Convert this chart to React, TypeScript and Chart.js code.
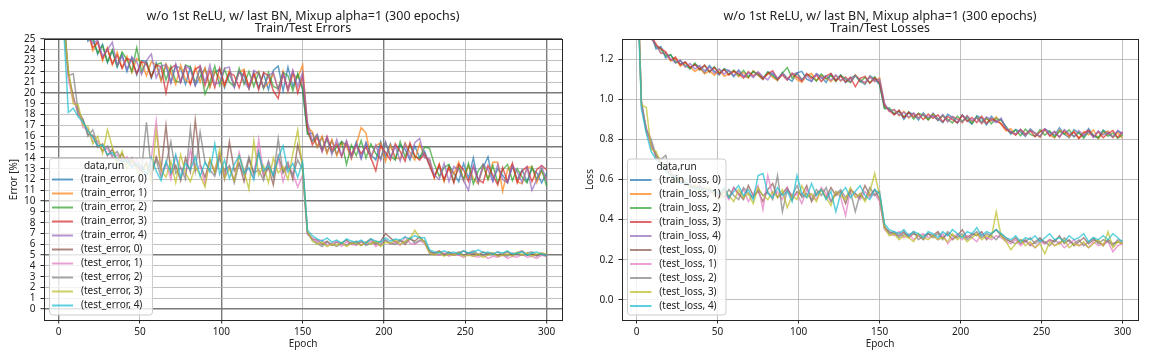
import React, { useEffect, useRef } from "react";
import { Chart, registerables } from "chart.js";
Chart.register(...registerables);

// ---------- categories / ticks ----------
const EPOCHS: number[] = Array.from({ length: 101 }, (_, i) => i * 3);
const X_TICKS = [0, 50, 100, 150, 200, 250, 300];
const X_MAJOR = [0, 100, 200, 300];
const ERR_TICKS = [0, 1, 2, 3, 4, 5, 6, 7, 8, 9, 10, 11, 12, 13, 14, 15, 16, 17, 18, 19, 20, 21, 22, 23, 24, 25];
const ERR_MAJOR = [0, 5, 10, 15, 20, 25];
const LOSS_TICKS = [0, 0.2, 0.4, 0.6, 0.8, 1.0, 1.2];

const ERR_LABELS = ["(train_error, 0)", "(train_error, 1)", "(train_error, 2)", "(train_error, 3)", "(train_error, 4)", "(test_error, 0)", "(test_error, 1)", "(test_error, 2)", "(test_error, 3)", "(test_error, 4)"];
const LOSS_LABELS = ["(train_loss, 0)", "(train_loss, 1)", "(train_loss, 2)", "(train_loss, 3)", "(train_loss, 4)", "(test_loss, 0)", "(test_loss, 1)", "(test_loss, 2)", "(test_loss, 3)", "(test_loss, 4)"];

// ---------- series (one value every 3 epochs, 0..300) ----------
const TRAIN_ERR_0 = [
  44.5, 36.2, 31.8, 29.3, 27.1, 26.6, 24.8, 25.3, 23.6, 24.5, 22.8, 23.9, 22.4, 23.6, 22.0, 23.3, 21.7, 23.0, 22.9, 21.4, 22.8,
  21.2, 22.6, 21.0, 22.5, 22.3, 20.8, 22.4, 20.7, 21.5, 22.3, 20.6, 21.9, 22.2, 20.5, 21.8, 20.6, 22.0, 21.6, 20.4, 21.9,
  20.5, 21.8, 20.3, 22.1, 22.5, 20.2, 22.4, 20.6, 21.7, 20.3,
  16.2, 16.3, 15.0, 15.9, 14.5, 15.6, 14.3, 15.5, 15.2, 14.1,
  15.5, 14.0, 15.4, 14.3, 13.8, 15.5, 14.1, 15.3, 13.9, 15.2, 14.8, 13.8, 15.1, 14.0, 14.6,
  13.4, 12.3, 13.2, 11.9, 13.3, 12.6, 11.8, 13.5, 12.1, 14.0, 11.8, 13.1, 14.1, 11.9, 13.0, 12.4, 11.7, 13.2, 12.0, 12.9, 11.8, 13.0, 12.6, 11.7, 12.6,
];
const TRAIN_ERR_1 = [
  43.8, 35.7, 31.2, 28.8, 27.6, 25.5, 25.8, 23.9, 24.8, 23.0, 24.2, 22.6, 23.8, 22.3, 23.4, 21.9, 23.2, 22.8, 21.6, 22.9, 22.6,
  21.1, 22.7, 21.9, 20.8, 22.6, 21.2, 20.9, 22.4, 21.0, 22.3, 20.5, 22.0, 21.4, 20.6, 22.1, 20.7, 21.9, 22.2, 20.4, 21.6,
  22.0, 20.5, 20.9, 21.8, 20.3, 22.0, 20.1, 21.7, 21.4, 22.6,
  16.9, 16.4, 15.0, 16.0, 14.4, 15.7, 14.2, 15.4, 15.1, 13.9,
  15.2, 16.8, 16.3, 14.0, 15.1, 15.4, 13.7, 15.2, 14.0, 13.9, 15.4, 14.5, 13.8, 15.3, 14.1,
  13.8, 12.1, 13.4, 11.8, 13.2, 12.5, 13.6, 11.9, 13.3, 12.1, 11.6, 13.3, 12.0, 13.6, 13.6, 10.9, 12.9, 13.4, 11.8, 11.6, 13.1, 13.2, 11.7, 12.8, 12.0,
];
const TRAIN_ERR_2 = [
  45.0, 36.5, 31.6, 29.0, 27.4, 26.3, 25.0, 24.9, 23.7, 24.4, 22.9, 24.0, 22.5, 23.8, 23.1, 22.0, 24.2, 22.0, 22.9, 21.5, 22.6,
  22.8, 21.2, 22.5, 21.1, 21.0, 22.6, 22.4, 20.9, 22.3, 19.9, 21.0, 22.5, 20.7, 22.2, 21.0, 20.6, 22.3, 20.8, 22.0, 20.6,
  21.9, 20.4, 21.9, 20.6, 20.4, 21.9, 21.6, 20.2, 21.8, 20.4,
  16.3, 15.5, 16.1, 14.8, 15.7, 14.5, 15.0, 15.5, 13.4, 15.2,
  14.2, 15.6, 14.0, 15.3, 14.4, 13.9, 15.4, 14.2, 13.8, 15.5, 14.1, 15.2, 14.1, 14.0, 15.0,
  14.9, 13.4, 12.3, 13.1, 13.4, 11.8, 13.2, 12.0, 13.5, 11.6, 12.8, 13.4, 12.0, 13.3, 11.7, 12.9, 13.4, 11.9, 13.0, 12.2, 11.7, 13.2, 12.0, 12.9, 11.4,
];
const TRAIN_ERR_3 = [
  44.2, 35.9, 31.4, 29.1, 27.2, 26.4, 25.6, 24.2, 24.7, 23.2, 24.1, 22.7, 23.5, 22.3, 23.2, 23.0, 21.8, 22.9, 22.7, 21.5, 22.6,
  22.4, 20.0, 22.3, 22.6, 21.0, 22.4, 20.8, 22.2, 22.5, 20.7, 22.1, 20.5, 22.3, 20.8, 21.9, 21.6, 20.5, 22.0, 20.6, 21.8,
  20.3, 21.9, 21.6, 20.2, 19.5, 21.8, 20.4, 22.0, 20.0, 21.6,
  16.8, 15.2, 15.9, 14.6, 16.0, 14.7, 15.3, 14.1, 15.5, 14.3,
  15.2, 14.4, 15.0, 14.0, 12.8, 15.1, 14.5, 13.8, 15.3, 14.6, 13.7, 15.4, 14.2, 13.8, 14.4,
  13.3, 12.2, 13.4, 12.0, 13.1, 11.7, 13.4, 12.9, 11.8, 13.2, 12.0, 11.7, 13.3, 12.4, 11.5, 13.1, 11.8, 13.5, 11.7, 12.8, 13.2, 11.8, 12.9, 13.3, 12.9,
];
const TRAIN_ERR_4 = [
  44.0, 36.0, 31.7, 28.9, 27.5, 26.1, 25.4, 24.6, 24.9, 23.4, 24.0, 24.7, 22.6, 23.4, 22.2, 23.3, 22.9, 21.7, 23.0, 23.6, 21.4,
  22.5, 22.6, 20.9, 22.7, 21.0, 22.5, 22.2, 20.7, 22.5, 21.0, 22.6, 20.8, 21.0, 22.3, 22.4, 20.5, 22.0, 21.1, 20.4, 22.1,
  21.8, 20.5, 21.6, 21.9, 20.3, 21.8, 20.2, 22.1, 20.6, 21.9,
  17.3, 15.6, 16.2, 14.6, 15.9, 14.3, 15.7, 14.2, 15.6, 14.0,
  15.3, 13.9, 15.4, 14.1, 15.2, 13.8, 15.5, 14.0, 15.1, 13.7, 15.3, 14.0, 15.4, 15.8, 14.0,
  13.9, 12.4, 12.0, 13.5, 11.8, 13.2, 12.9, 11.9, 11.0, 13.3, 11.7, 13.4, 12.9, 11.8, 13.4, 12.0, 11.7, 13.3, 12.7, 11.7, 13.1, 11.0, 12.0, 13.2, 11.9,
];
const TEST_ERR_0 = [
  40.5, 27.3, 21.8, 19.7, 18.0, 17.5, 16.2, 16.1, 15.0, 15.3, 14.2, 14.8, 13.7, 14.4, 13.5, 14.0, 13.2,
  12.8, 13.6, 12.4, 14.1, 12.9, 17.0, 12.5, 13.3, 11.9, 14.0, 12.7, 17.5, 13.4, 12.2, 13.8, 12.6, 14.3, 12.1, 15.5, 12.8, 13.5, 11.8, 13.9, 12.5, 14.6, 12.3, 13.1, 11.5, 14.2, 12.7, 13.6, 12.0, 15.2, 13.4,
  7.1, 6.5, 6.4, 6.0, 6.3, 5.9, 6.2, 6.1, 6.4, 6.0,
  6.3, 5.9, 6.2, 6.5, 6.0, 6.3, 7.0, 6.6, 6.2, 6.4, 6.0, 6.5, 6.3, 6.7, 6.2,
  5.3, 5.2, 5.4, 5.1, 5.3, 5.0, 5.2, 5.4, 5.1, 5.2, 5.0, 5.3, 5.1, 5.2, 4.9, 5.1, 5.3, 5.0, 5.2, 5.4, 5.0, 5.1, 4.9, 5.2, 5.0,
];
const TEST_ERR_1 = [
  39.5, 26.8, 21.2, 19.3, 18.6, 16.8, 16.7, 15.5, 15.6, 14.6, 14.9, 14.0, 14.3, 13.6, 14.1, 13.2, 13.8,
  13.0, 12.3, 13.9, 17.4, 12.6, 13.5, 12.0, 14.2, 13.1, 12.4, 14.7, 12.8, 13.3, 11.6, 13.7, 12.9, 14.4, 12.2, 13.2, 11.9, 14.5, 12.7, 13.0, 12.1, 15.7, 12.5, 13.6, 12.3, 14.0, 11.8, 13.4, 12.6, 11.3, 12.4,
  6.9, 6.6, 6.2, 6.4, 5.9, 6.1, 6.3, 5.8, 6.2, 6.0,
  5.9, 6.2, 6.0, 6.3, 5.8, 6.1, 6.4, 6.0, 6.2, 5.9, 6.7, 6.1, 6.0, 6.3, 6.1,
  5.2, 5.1, 5.0, 5.2, 4.9, 5.1, 5.0, 4.8, 5.1, 4.9, 4.8, 5.0, 4.7, 4.9, 4.8, 5.0, 4.7, 4.9, 4.8, 5.1, 4.8, 4.9, 4.7, 5.0, 4.9,
];
const TEST_ERR_2 = [
  41.0, 27.5, 21.6, 21.8, 18.3, 17.6, 16.0, 16.6, 15.2, 14.7, 15.1, 14.2, 14.6, 13.8, 13.9, 13.6, 13.3,
  12.9, 17.3, 12.7, 13.8, 12.2, 13.4, 15.5, 12.6, 13.1, 12.0, 16.7, 12.8, 16.4, 13.6, 12.9, 12.3, 14.0, 12.8, 13.3, 11.7, 13.5, 12.4, 14.1, 12.6, 12.9, 11.9, 13.7, 12.2, 15.8, 12.6, 13.2, 12.4, 13.8, 12.9,
  7.0, 6.4, 6.1, 5.8, 6.2, 6.0, 5.8, 6.1, 5.9, 6.2,
  6.0, 6.3, 5.9, 6.1, 6.2, 5.9, 6.4, 6.1, 6.0, 6.3, 6.2, 6.6, 6.1, 6.4, 6.3,
  5.4, 5.1, 5.3, 5.0, 5.2, 5.1, 5.3, 5.0, 5.2, 5.4, 5.1, 5.0, 5.2, 5.1, 5.3, 5.0, 4.9, 5.2, 5.1, 5.0, 5.2, 5.3, 5.0, 5.1, 4.9,
];
const TEST_ERR_3 = [
  39.8, 26.5, 22.1, 19.0, 18.9, 17.0, 16.9, 15.3, 16.0, 14.4, 16.6, 15.0, 13.5, 14.6, 13.0, 13.8, 12.9,
  12.5, 13.4, 11.8, 16.5, 12.9, 12.2, 13.7, 11.7, 14.3, 12.6, 11.8, 13.2, 12.4, 11.3, 13.9, 12.7, 14.8, 12.1, 13.0, 11.9, 14.2, 12.8, 11.1, 15.6, 12.4, 13.3, 11.7, 14.0, 12.6, 13.2, 12.0, 14.4, 16.6, 13.0,
  7.2, 6.3, 6.0, 6.2, 5.8, 6.0, 5.9, 6.2, 5.8, 6.1,
  6.1, 5.9, 6.2, 6.0, 6.3, 5.8, 6.2, 6.1, 6.4, 6.0, 6.3, 6.5, 7.3, 6.6, 6.2,
  5.2, 5.0, 5.3, 4.9, 5.1, 5.0, 5.2, 4.9, 5.0, 4.9, 5.1, 4.8, 5.0, 5.2, 4.9, 5.0, 5.1, 4.9, 5.3, 5.0, 5.2, 4.9, 5.1, 5.2, 5.1,
];
const TEST_ERR_4 = [
  40.2, 26.2, 18.2, 18.6, 17.8, 17.3, 16.5, 15.9, 15.1, 15.2, 14.3, 14.5, 13.9, 13.6, 13.8, 13.1, 13.5,
  13.2, 12.4, 14.0, 12.8, 11.9, 13.7, 12.6, 14.3, 12.2, 13.5, 12.9, 14.1, 12.3, 13.6, 12.7, 15.3, 12.5, 13.8, 12.1, 13.4, 14.2, 12.6, 13.1, 12.0, 14.5, 12.8, 13.3, 12.4, 14.0, 15.1, 12.7, 13.5, 12.2, 13.6,
  7.3, 6.8, 6.5, 6.3, 6.6, 6.2, 6.4, 6.1, 6.5, 6.3,
  6.2, 6.4, 6.1, 6.5, 6.3, 6.2, 6.6, 6.3, 6.5, 6.4, 6.7, 6.5, 6.8, 6.6, 6.6,
  5.5, 5.3, 5.2, 5.4, 5.2, 5.3, 5.1, 5.4, 5.2, 5.3, 5.5, 5.2, 5.3, 5.1, 5.3, 5.2, 5.4, 5.1, 5.2, 5.3, 5.0, 5.2, 5.3, 5.1, 5.0,
];

const TRAIN_LOSS_0 = [
  2.08, 1.61, 1.39, 1.325, 1.25, 1.262, 1.205, 1.222, 1.19, 1.176, 1.185, 1.152, 1.175, 1.16, 1.131, 1.168, 1.139, 1.121, 1.151, 1.142, 1.112,
  1.146, 1.115, 1.108, 1.139, 1.12, 1.098, 1.136, 1.126, 1.094, 1.133, 1.105, 1.09, 1.131, 1.139, 1.1, 1.088, 1.127, 1.112, 1.083, 1.126,
  1.095, 1.121, 1.083, 1.104, 1.12, 1.09, 1.074, 1.116, 1.1, 1.072,
  0.958, 0.95, 0.925, 0.942, 0.9, 0.934, 0.925, 0.896, 0.932, 0.9,
  0.93, 0.904, 0.884, 0.925, 0.91, 0.88, 0.922, 0.896, 0.876, 0.918, 0.905, 0.872, 0.915, 0.888, 0.9,
  0.858, 0.826, 0.85, 0.836, 0.815, 0.852, 0.83, 0.812, 0.85, 0.838, 0.818, 0.857, 0.826, 0.808, 0.848, 0.832, 0.814, 0.854, 0.82, 0.806, 0.846, 0.83, 0.81, 0.84, 0.826,
];
const TRAIN_LOSS_1 = [
  2.12, 1.63, 1.405, 1.3, 1.278, 1.228, 1.232, 1.19, 1.203, 1.165, 1.181, 1.162, 1.138, 1.155, 1.127, 1.141, 1.12, 1.146, 1.115, 1.124, 1.139,
  1.112, 1.134, 1.105, 1.142, 1.118, 1.1, 1.131, 1.109, 1.093, 1.128, 1.101, 1.124, 1.098, 1.085, 1.119, 1.128, 1.092, 1.118, 1.106, 1.087,
  1.118, 1.09, 1.112, 1.084, 1.121, 1.098, 1.079, 1.113, 1.088, 1.107,
  0.975, 0.938, 0.949, 0.918, 0.94, 0.906, 0.929, 0.905, 0.925, 0.898,
  0.927, 0.896, 0.918, 0.889, 0.912, 0.904, 0.882, 0.917, 0.887, 0.909, 0.878, 0.902, 0.891, 0.912, 0.874,
  0.842, 0.853, 0.822, 0.848, 0.82, 0.846, 0.831, 0.81, 0.849, 0.822, 0.807, 0.845, 0.834, 0.812, 0.841, 0.806, 0.838, 0.823, 0.847, 0.804, 0.83, 0.842, 0.809, 0.834, 0.805,
];
const TRAIN_LOSS_2 = [
  2.1, 1.625, 1.41, 1.315, 1.26, 1.25, 1.215, 1.222, 1.18, 1.192, 1.168, 1.152, 1.18, 1.145, 1.168, 1.135, 1.162, 1.13, 1.15, 1.124, 1.145,
  1.118, 1.144, 1.112, 1.138, 1.125, 1.104, 1.135, 1.118, 1.099, 1.13, 1.158, 1.105, 1.129, 1.097, 1.124, 1.112, 1.09, 1.126, 1.101, 1.118,
  1.088, 1.12, 1.099, 1.083, 1.118, 1.086, 1.109, 1.081, 1.112, 1.078,
  0.952, 0.957, 0.928, 0.94, 0.911, 0.938, 0.9, 0.93, 0.92, 0.897,
  0.921, 0.894, 0.919, 0.9, 0.882, 0.916, 0.89, 0.91, 0.879, 0.913, 0.886, 0.908, 0.877, 0.905, 0.895,
  0.864, 0.832, 0.846, 0.818, 0.851, 0.825, 0.815, 0.848, 0.821, 0.841, 0.811, 0.84, 0.826, 0.847, 0.812, 0.835, 0.805, 0.84, 0.818, 0.808, 0.843, 0.815, 0.832, 0.806, 0.822,
];
const TRAIN_LOSS_3 = [
  2.09, 1.61, 1.39, 1.322, 1.27, 1.252, 1.236, 1.195, 1.21, 1.171, 1.186, 1.158, 1.172, 1.148, 1.17, 1.137, 1.158, 1.126, 1.148, 1.121, 1.14,
  1.128, 1.105, 1.138, 1.116, 1.132, 1.102, 1.126, 1.142, 1.1, 1.121, 1.095, 1.13, 1.111, 1.09, 1.128, 1.104, 1.12, 1.088, 1.115, 1.128,
  1.092, 1.115, 1.086, 1.11, 1.062, 1.104, 1.114, 1.08, 1.105, 1.084,
  0.97, 0.944, 0.922, 0.945, 0.908, 0.935, 0.911, 0.928, 0.898, 0.926,
  0.905, 0.922, 0.887, 0.914, 0.898, 0.883, 0.92, 0.889, 0.909, 0.884, 0.915, 0.88, 0.903, 0.891, 0.878,
  0.85, 0.836, 0.821, 0.849, 0.826, 0.843, 0.813, 0.837, 0.852, 0.816, 0.838, 0.81, 0.845, 0.819, 0.836, 0.804, 0.832, 0.845, 0.812, 0.838, 0.808, 0.829, 0.844, 0.81, 0.836,
];
const TRAIN_LOSS_4 = [
  2.11, 1.62, 1.4, 1.305, 1.268, 1.23, 1.228, 1.2, 1.182, 1.195, 1.16, 1.178, 1.15, 1.168, 1.142, 1.16, 1.13, 1.152, 1.125, 1.144, 1.118,
  1.14, 1.114, 1.131, 1.108, 1.137, 1.112, 1.096, 1.134, 1.104, 1.127, 1.098, 1.123, 1.132, 1.096, 1.119, 1.09, 1.127, 1.103, 1.118, 1.094,
  1.121, 1.093, 1.108, 1.087, 1.117, 1.096, 1.083, 1.111, 1.089, 1.1,
  0.98, 0.94, 0.948, 0.92, 0.935, 0.91, 0.932, 0.906, 0.924, 0.91,
  0.918, 0.895, 0.924, 0.888, 0.914, 0.9, 0.885, 0.918, 0.893, 0.907, 0.88, 0.912, 0.896, 0.883, 0.906,
  0.856, 0.84, 0.826, 0.85, 0.82, 0.846, 0.831, 0.815, 0.853, 0.824, 0.84, 0.812, 0.849, 0.828, 0.814, 0.844, 0.82, 0.838, 0.809, 0.842, 0.822, 0.836, 0.812, 0.845, 0.83,
];
const TEST_LOSS_0 = [
  1.72, 0.98, 0.84, 0.78, 0.71, 0.69, 0.66, 0.62, 0.62, 0.59, 0.58, 0.57, 0.56, 0.57, 0.54, 0.55, 0.53,
  0.52, 0.55, 0.51, 0.56, 0.53, 0.50, 0.57, 0.52, 0.54, 0.49, 0.55, 0.58, 0.51, 0.53, 0.56, 0.50, 0.54, 0.52, 0.57, 0.49, 0.53, 0.55, 0.51, 0.56, 0.52, 0.54, 0.48, 0.55, 0.53, 0.51, 0.57, 0.52, 0.55, 0.50,
  0.36, 0.34, 0.33, 0.32, 0.34, 0.31, 0.33, 0.32, 0.30, 0.33,
  0.32, 0.34, 0.31, 0.33, 0.30, 0.32, 0.35, 0.31, 0.33, 0.32, 0.34, 0.30, 0.33, 0.35, 0.32,
  0.30, 0.29, 0.31, 0.28, 0.30, 0.27, 0.29, 0.31, 0.28, 0.30, 0.29, 0.32, 0.28, 0.30, 0.27, 0.29, 0.31, 0.28, 0.30, 0.29, 0.27, 0.30, 0.28, 0.29, 0.28,
];
const TEST_LOSS_1 = [
  1.78, 0.96, 0.86, 0.76, 0.73, 0.67, 0.65, 0.64, 0.60, 0.60, 0.57, 0.58, 0.55, 0.56, 0.55, 0.53, 0.55,
  0.51, 0.54, 0.50, 0.56, 0.52, 0.55, 0.49, 0.53, 0.57, 0.45, 0.62, 0.52, 0.54, 0.50, 0.56, 0.51, 0.53, 0.48, 0.55, 0.52, 0.50, 0.56, 0.53, 0.49, 0.54, 0.51, 0.42, 0.55, 0.52, 0.50, 0.54, 0.51, 0.53, 0.49,
  0.35, 0.33, 0.32, 0.34, 0.31, 0.33, 0.30, 0.32, 0.33, 0.31,
  0.32, 0.30, 0.33, 0.28, 0.31, 0.33, 0.30, 0.32, 0.31, 0.29, 0.33, 0.31, 0.30, 0.32, 0.31,
  0.29, 0.28, 0.30, 0.27, 0.29, 0.28, 0.26, 0.29, 0.28, 0.30, 0.27, 0.29, 0.26, 0.28, 0.30, 0.27, 0.28, 0.26, 0.29, 0.27, 0.28, 0.29, 0.24, 0.27, 0.28,
];
const TEST_LOSS_2 = [
  1.74, 0.99, 0.85, 0.80, 0.72, 0.70, 0.72, 0.63, 0.61, 0.60, 0.59, 0.56, 0.57, 0.55, 0.56, 0.54, 0.53,
  0.54, 0.51, 0.55, 0.52, 0.50, 0.56, 0.53, 0.51, 0.55, 0.52, 0.54, 0.50, 0.62, 0.44, 0.55, 0.52, 0.57, 0.51, 0.53, 0.50, 0.55, 0.52, 0.56, 0.49, 0.53, 0.55, 0.51, 0.54, 0.44, 0.53, 0.50, 0.56, 0.52, 0.54,
  0.37, 0.33, 0.34, 0.31, 0.33, 0.32, 0.34, 0.30, 0.32, 0.33,
  0.31, 0.33, 0.30, 0.34, 0.32, 0.31, 0.33, 0.30, 0.32, 0.34, 0.31, 0.33, 0.32, 0.30, 0.33,
  0.31, 0.29, 0.28, 0.30, 0.29, 0.31, 0.28, 0.30, 0.29, 0.27, 0.30, 0.28, 0.31, 0.29, 0.28, 0.30, 0.27, 0.29, 0.31, 0.28, 0.30, 0.29, 0.27, 0.30, 0.29,
];
const TEST_LOSS_3 = [
  1.76, 0.97, 0.96, 0.75, 0.74, 0.68, 0.64, 0.63, 0.59, 0.61, 0.58, 0.56, 0.57, 0.54, 0.55, 0.56, 0.52,
  0.50, 0.54, 0.52, 0.49, 0.55, 0.51, 0.53, 0.48, 0.56, 0.52, 0.50, 0.54, 0.51, 0.55, 0.46, 0.52, 0.50, 0.57, 0.51, 0.53, 0.49, 0.55, 0.51, 0.47, 0.54, 0.52, 0.50, 0.56, 0.51, 0.53, 0.49, 0.54, 0.63, 0.52,
  0.36, 0.32, 0.33, 0.30, 0.32, 0.31, 0.29, 0.33, 0.31, 0.30,
  0.32, 0.30, 0.31, 0.29, 0.33, 0.30, 0.32, 0.29, 0.31, 0.33, 0.30, 0.32, 0.31, 0.44, 0.32,
  0.29, 0.25, 0.28, 0.30, 0.27, 0.29, 0.26, 0.28, 0.23, 0.29, 0.27, 0.28, 0.30, 0.26, 0.28, 0.27, 0.29, 0.26, 0.28, 0.30, 0.27, 0.34, 0.26, 0.29, 0.28,
];
const TEST_LOSS_4 = [
  1.70, 0.95, 0.83, 0.74, 0.70, 0.68, 0.64, 0.62, 0.61, 0.58, 0.59, 0.57, 0.55, 0.56, 0.54, 0.55, 0.54,
  0.53, 0.56, 0.51, 0.54, 0.57, 0.52, 0.55, 0.50, 0.62, 0.63, 0.53, 0.51, 0.56, 0.52, 0.54, 0.49, 0.62, 0.53, 0.51, 0.58, 0.52, 0.55, 0.50, 0.54, 0.44, 0.53, 0.56, 0.51, 0.54, 0.57, 0.52, 0.50, 0.55, 0.53,
  0.38, 0.35, 0.34, 0.33, 0.35, 0.32, 0.34, 0.33, 0.31, 0.34,
  0.33, 0.31, 0.34, 0.32, 0.35, 0.33, 0.31, 0.34, 0.33, 0.36, 0.32, 0.34, 0.33, 0.35, 0.33,
  0.31, 0.30, 0.32, 0.29, 0.31, 0.30, 0.32, 0.29, 0.31, 0.33, 0.30, 0.31, 0.29, 0.32, 0.30, 0.31, 0.33, 0.29, 0.31, 0.30, 0.32, 0.30, 0.33, 0.31, 0.29,
];

const ERR_SERIES = [TRAIN_ERR_0, TRAIN_ERR_1, TRAIN_ERR_2, TRAIN_ERR_3, TRAIN_ERR_4, TEST_ERR_0, TEST_ERR_1, TEST_ERR_2, TEST_ERR_3, TEST_ERR_4];
const LOSS_SERIES = [TRAIN_LOSS_0, TRAIN_LOSS_1, TRAIN_LOSS_2, TRAIN_LOSS_3, TRAIN_LOSS_4, TEST_LOSS_0, TEST_LOSS_1, TEST_LOSS_2, TEST_LOSS_3, TEST_LOSS_4];

// ---------- styles ----------
const TAB10 = ["31,119,180", "255,127,14", "44,160,44", "214,39,40", "148,103,189", "140,86,75", "227,119,194", "127,127,127", "188,189,34", "23,190,207"];
const LINE_ALPHA = 0.7;
const COLORS = TAB10.map((c) => `rgba(${c},${LINE_ALPHA})`);
const FAMILY = "'Noto Sans', 'DejaVu Sans', sans-serif";
const TEXT = "#222222";
const GRID_LIGHT = "#b0b0b0";
const GRID_DARK = "#7a7a7a";
const TITLE_1 = "w/o 1st ReLU, w/ last BN, Mixup alpha=1 (300 epochs)";

type PanelSpec = {
  series: number[][];
  labels: string[];
  subtitle: string;
  yTicks: number[];
  yMin: number;
  yMax: number;
  yFmt: (v: number) => string;
  yTitle: string;
  yTitlePad: number;
  yWidth: number;
  rightPad: number;
  majorX: number[];
  majorY: number[];
  legend: { x0: number; x1: number; y0: number; y1: number; lineX0: number; lineX1: number; textX: number; titleX: number };
};

function makePlugins(spec: PanelSpec) {
  const frame = {
    id: "frame",
    afterDatasetsDraw(chart: any) {
      const { ctx, chartArea: a } = chart;
      ctx.save();
      ctx.strokeStyle = "#262626";
      ctx.lineWidth = 1;
      ctx.strokeRect(Math.round(a.left) + 0.5, Math.round(a.top) + 0.5, Math.round(a.right - a.left), Math.round(a.bottom - a.top));
      ctx.restore();
    },
  };
  const titles = {
    id: "titles",
    afterDraw(chart: any) {
      const { ctx, chartArea: a } = chart;
      const cx = (a.left + a.right) / 2;
      ctx.save();
      ctx.fillStyle = TEXT;
      ctx.font = `12.5px ${FAMILY}`;
      ctx.textAlign = "center";
      ctx.textBaseline = "middle";
      ctx.fillText(TITLE_1, cx, 16.5);
      ctx.fillText(spec.subtitle, cx, 28.5);
      ctx.restore();
    },
  };
  const legend = {
    id: "mplLegend",
    afterDraw(chart: any) {
      const { ctx } = chart;
      const L = spec.legend;
      ctx.save();
      const r = 3;
      ctx.beginPath();
      ctx.moveTo(L.x0 + r, L.y0);
      ctx.lineTo(L.x1 - r, L.y0);
      ctx.arcTo(L.x1, L.y0, L.x1, L.y0 + r, r);
      ctx.lineTo(L.x1, L.y1 - r);
      ctx.arcTo(L.x1, L.y1, L.x1 - r, L.y1, r);
      ctx.lineTo(L.x0 + r, L.y1);
      ctx.arcTo(L.x0, L.y1, L.x0, L.y1 - r, r);
      ctx.lineTo(L.x0, L.y0 + r);
      ctx.arcTo(L.x0, L.y0, L.x0 + r, L.y0, r);
      ctx.closePath();
      ctx.fillStyle = "rgba(255,255,255,0.8)";
      ctx.fill();
      ctx.strokeStyle = "#cccccc";
      ctx.lineWidth = 1;
      ctx.stroke();
      ctx.font = `10px ${FAMILY}`;
      ctx.fillStyle = TEXT;
      ctx.textBaseline = "middle";
      ctx.textAlign = "center";
      ctx.fillText("data,run", L.titleX, L.y0 + 8);
      ctx.textAlign = "left";
      spec.labels.forEach((lab, i) => {
        const y = L.y0 + 21 + i * 14;
        ctx.strokeStyle = COLORS[i];
        ctx.lineWidth = 2;
        ctx.beginPath();
        ctx.moveTo(L.lineX0, y);
        ctx.lineTo(L.lineX1, y);
        ctx.stroke();
        ctx.fillText(lab, L.textX, y);
      });
      ctx.restore();
    },
  };
  return [frame, titles, legend];
}

function makeConfig(spec: PanelSpec): any {
  const datasets = spec.series.map((vals, i) => ({
    label: spec.labels[i],
    data: EPOCHS.map((x, j) => ({ x, y: vals[j] })),
    borderColor: COLORS[i],
    backgroundColor: COLORS[i],
    borderWidth: 1.5,
    pointRadius: 0,
    tension: 0,
    fill: false,
    order: spec.series.length - i,
  }));
  const tickFont = { family: FAMILY, size: 10 };
  return {
    type: "line",
    data: { datasets },
    options: {
      animation: false,
      responsive: false,
      devicePixelRatio: 1,
      events: [],
      layout: { padding: { left: 0, right: spec.rightPad, top: 39, bottom: 0 } },
      plugins: { legend: { display: false }, tooltip: { enabled: false }, title: { display: false } },
      scales: {
        x: {
          type: "linear",
          min: -9,
          max: 309.5,
          afterBuildTicks: (s: any) => {
            s.ticks = X_TICKS.map((v) => ({ value: v }));
          },
          afterFit: (s: any) => {
            s.height = 40;
          },
          border: { display: false },
          grid: {
            color: (c: any) => (spec.majorX.includes(c.tick?.value) ? GRID_DARK : GRID_LIGHT),
            lineWidth: (c: any) => (spec.majorX.includes(c.tick?.value) ? 1.4 : 0.8),
            tickColor: "#262626",
            tickLength: 3.5,
            tickWidth: 1,
          },
          ticks: { font: tickFont, color: TEXT, padding: 3, maxRotation: 0, autoSkip: false, callback: (v: any) => String(v) },
          title: { display: true, text: "Epoch", font: tickFont, color: TEXT, padding: { top: 0, bottom: 10.3 } },
        },
        y: {
          type: "linear",
          min: spec.yMin,
          max: spec.yMax,
          afterBuildTicks: (s: any) => {
            s.ticks = spec.yTicks.map((v) => ({ value: v }));
          },
          afterFit: (s: any) => {
            s.width = spec.yWidth;
          },
          border: { display: false },
          grid: {
            color: (c: any) => (spec.majorY.includes(c.tick?.value) ? GRID_DARK : GRID_LIGHT),
            lineWidth: (c: any) => (spec.majorY.includes(c.tick?.value) ? 1.4 : 0.8),
            tickColor: "#262626",
            tickLength: 3.5,
            tickWidth: 1,
          },
          ticks: { font: tickFont, color: TEXT, padding: 5, autoSkip: false, callback: (v: any) => spec.yFmt(Number(v)) },
          title: { display: true, text: spec.yTitle, font: tickFont, color: TEXT, padding: { top: spec.yTitlePad, bottom: 0 } },
        },
      },
    },
    plugins: makePlugins(spec),
  };
}

const ERR_SPEC: PanelSpec = {
  series: ERR_SERIES,
  labels: ERR_LABELS,
  subtitle: "Train/Test Errors",
  yTicks: ERR_TICKS,
  yMin: -1,
  yMax: 25,
  yFmt: (v) => String(v),
  yTitle: "Error [%]",
  yTitlePad: 7.7,
  yWidth: 44,
  rightPad: 14,
  majorX: X_MAJOR,
  majorY: ERR_MAJOR,
  legend: { x0: 49.5, x1: 152.5, y0: 158.5, y1: 315, lineX0: 52, lineX1: 73, textX: 81, titleX: 104 },
};

const LOSS_SPEC: PanelSpec = {
  series: LOSS_SERIES,
  labels: LOSS_LABELS,
  subtitle: "Train/Test Losses",
  yTicks: LOSS_TICKS,
  yMin: -0.1,
  yMax: 1.3,
  yFmt: (v) => v.toFixed(1),
  yTitle: "Loss",
  yTitlePad: 8,
  yWidth: 46,
  rightPad: 14,
  majorX: [],
  majorY: [],
  legend: { x0: 51.5, x1: 150, y0: 159, y1: 315, lineX0: 54, lineX1: 75.5, textX: 83.3, titleX: 100.5 },
};

function Panel({ spec, left }: { spec: PanelSpec; left: number }) {
  const ref = useRef<HTMLCanvasElement | null>(null);
  useEffect(() => {
    if (!ref.current) return;
    const chart = new Chart(ref.current, makeConfig(spec));
    return () => chart.destroy();
  }, [spec]);
  return <canvas ref={ref} width={576} height={360} style={{ position: "absolute", left, top: 0, width: 576, height: 360 }} />;
}

export default function App() {
  return (
    <div style={{ position: "absolute", left: 0, top: 0, width: 1152, height: 360, background: "#ffffff", overflow: "hidden" }}>
      <Panel spec={ERR_SPEC} left={0} />
      <Panel spec={LOSS_SPEC} left={576} />
    </div>
  );
}
